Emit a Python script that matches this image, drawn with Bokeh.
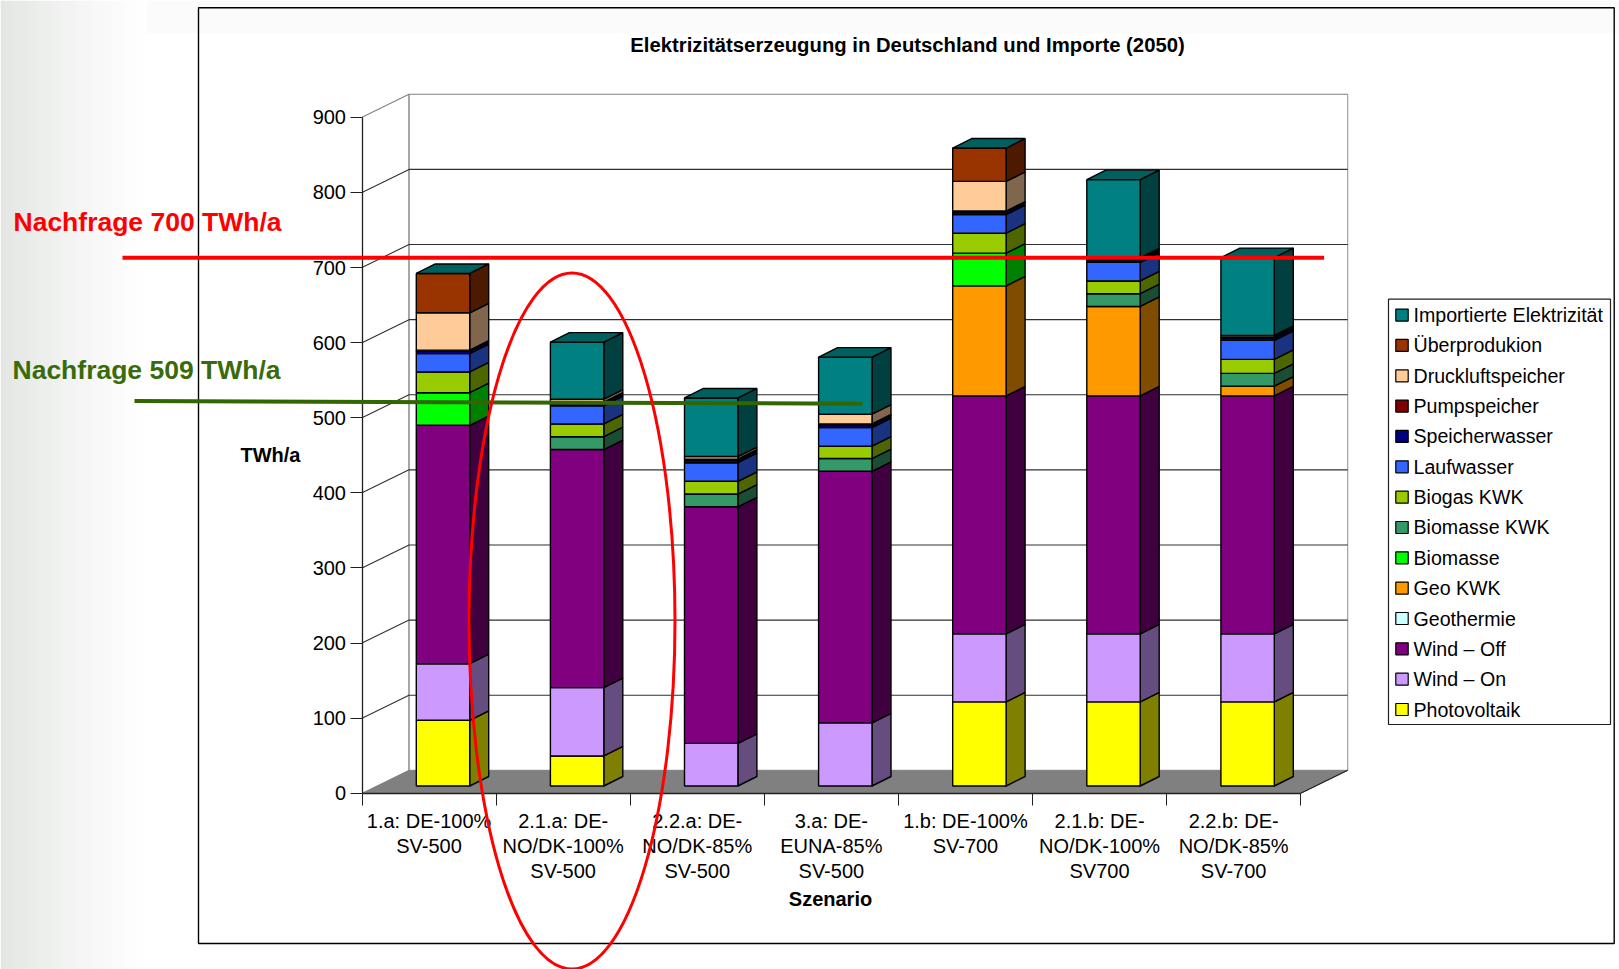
from bokeh.plotting import figure
from bokeh.models import Range1d, LinearAxis, FixedTicker
from bokeh.embed import file_html
from bokeh.resources import INLINE
from bokeh.core.properties import value

scenarios = ["1.a: DE-100%\nSV-500", "2.1.a: DE-\nNO/DK-100%\nSV-500", "2.2.a: DE-\nNO/DK-85%\nSV-500",
             "3.a: DE-\nEUNA-85%\nSV-500", "1.b: DE-100%\nSV-700", "2.1.b: DE-\nNO/DK-100%\nSV700",
             "2.2.b: DE-\nNO/DK-85%\nSV-700"]
y_ticks = [0, 100, 200, 300, 400, 500, 600, 700, 800, 900]

photovoltaik = [87.5, 40, 0, 0, 112, 112, 112]
wind_on = [75.3, 91, 56.7, 84, 90.6, 90.6, 90.6]
wind_off = [317.4, 317, 315, 335, 316.8, 316.8, 316.8]
geothermie = [0, 0, 0, 0, 0, 0, 0]
geo_kwk = [0, 0, 0, 0, 146.5, 119, 13]
biomasse = [43.4, 0, 0, 0, 43.5, 0, 0]
biomasse_kwk = [0, 17, 17, 17, 0, 17, 17]
biogas_kwk = [27.6, 17, 17, 16.4, 26.6, 17, 18.6]
laufwasser = [24.4, 24.3, 24.7, 24.9, 24.8, 24.7, 25.3]
speicherwasser = [3.5, 3.5, 3.5, 3.5, 3.5, 3.5, 3.5]
pumpspeicher = [1.2, 1.2, 1.2, 1.2, 1.2, 1.2, 1.2]
druckluft = [49.7, 4, 3.5, 13, 39.5, 1.5, 2]
ueberproduktion = [52.4, 0, 0, 0, 44.4, 0, 0]
import_el = [0, 76, 78, 76, 0, 104, 103.5]

series = [
    ("Photovoltaik", photovoltaik, "#FFFF00", "#808000"),
    ("Wind – On", wind_on, "#CC99FF", "#664D80"),
    ("Wind – Off", wind_off, "#800080", "#400040"),
    ("Geothermie", geothermie, "#CCFFFF", "#668080"),
    ("Geo KWK", geo_kwk, "#FF9900", "#804D00"),
    ("Biomasse", biomasse, "#00FF00", "#008000"),
    ("Biomasse KWK", biomasse_kwk, "#339966", "#1A4D33"),
    ("Biogas KWK", biogas_kwk, "#99CC00", "#4D6600"),
    ("Laufwasser", laufwasser, "#3366FF", "#1A3380"),
    ("Speicherwasser", speicherwasser, "#000080", "#000040"),
    ("Pumpspeicher", pumpspeicher, "#800000", "#400000"),
    ("Druckluftspeicher", druckluft, "#FFCC99", "#80664D"),
    ("Überprodukion", ueberproduktion, "#993300", "#4D1A00"),
    ("Importierte Elektrizität", import_el, "#008080", "#004040"),
]
demand_high = 703.4
demand_low_left, demand_low_right = 512.5, 509

W, H = 1619, 969
PX_CAT, PX_VAL, X0, Y0 = 134.1, 0.7511, 361.5, 792.8
FONT = "Liberation Sans"


def fx(px):
    return (px - X0) / PX_CAT


def fy(py):
    return (Y0 - py) / PX_VAL


p = figure(width=W, height=H, output_backend="svg", toolbar_location=None,
           x_range=Range1d(fx(0), fx(W)), y_range=Range1d(fy(H), fy(0)),
           x_axis_location=None, y_axis_location=None, min_border=0,
           outline_line_color=None)
p.grid.visible = False

# page background: faint gradient at the left and strip on top
n = 36
for i in range(n):
    t = i / (n - 1)
    c = [int(round(a + (255 - a) * min(1, t ** 0.8))) for a in (0xE2, 0xE5, 0xE2)]
    p.quad(left=fx(i * 146 / n), right=fx((i + 1) * 146 / n + 0.5), bottom=fy(H), top=fy(0),
           fill_color="#%02X%02X%02X" % tuple(c), line_color=None)
p.quad(left=fx(146), right=fx(W), bottom=fy(33), top=fy(0), fill_color="#FBFBFB", line_color=None)

# chart frame
p.quad(left=fx(198), right=fx(1613.7), bottom=fy(943), top=fy(7.3), fill_color=None,
       line_color="#000000", line_width=1.4)

# 3D walls, offsets expressed in scale units
WALL_DX, WALL_DY = 47 / PX_CAT, 23 / PX_VAL
n_cat = len(scenarios)
p.patch([0, n_cat, n_cat + WALL_DX, WALL_DX], [0, 0, WALL_DY, WALL_DY], fill_color="#808080", line_color="#808080")
p.line([WALL_DX, WALL_DX], [WALL_DY, y_ticks[-1] + WALL_DY], line_color="#808080", line_width=1.4)
p.line([n_cat + WALL_DX, n_cat + WALL_DX], [WALL_DY, y_ticks[-1] + WALL_DY], line_color="#A0A0A0", line_width=1.2)
for v in y_ticks[1:]:
    col = "#808080" if v == y_ticks[-1] else "#303030"
    p.line([0, WALL_DX, n_cat + WALL_DX], [v, v + WALL_DY, v + WALL_DY], line_color=col, line_width=1.1)
p.line([n_cat, n_cat + WALL_DX], [0, WALL_DY], line_color="#202020", line_width=1.1)

# bars
BAR_L, BAR_W = 54.3 / PX_CAT, 53.4 / PX_CAT
BASE = 7.3 / PX_VAL
SIDE_X, SIDE_Y = 19 / PX_CAT, 9.5 / PX_VAL
cum = [BASE] * n_cat
for name, vals, front, side in series:
    fxs, fys, sxs, sys_ = [], [], [], []
    for i, v in enumerate(vals):
        if v <= 0:
            continue
        l, r = i + BAR_L, i + BAR_L + BAR_W
        b, t = cum[i], cum[i] + v
        fxs.append([l, r, r, l])
        fys.append([b, b, t, t])
        sxs.append([r, r + SIDE_X, r + SIDE_X, r])
        sys_.append([b, b + SIDE_Y, t + SIDE_Y, t])
        cum[i] = t
    if fxs:
        p.patches(sxs, sys_, fill_color=side, line_color="#000000", line_width=1.4)
        p.patches(fxs, fys, fill_color=front, line_color="#000000", line_width=1.4)
txs, tys = [], []
for i in range(n_cat):
    l, r = i + BAR_L, i + BAR_L + BAR_W
    t = cum[i]
    txs.append([l, r, r + SIDE_X, l + SIDE_X])
    tys.append([t, t, t + SIDE_Y, t + SIDE_Y])
p.patches(txs, tys, fill_color="#006060", line_color="#000000", line_width=1.4)

# axes
yax = LinearAxis(fixed_location=0, ticker=FixedTicker(ticks=y_ticks), bounds=(0, y_ticks[-1]),
                 major_tick_in=0, major_tick_out=12, minor_tick_out=0, minor_tick_in=0,
                 major_label_standoff=4, major_label_text_font=FONT, major_label_text_font_size="20px",
                 major_label_text_color="#000000", axis_line_color="#202020", major_tick_line_color="#202020",
                 axis_line_width=1.3)
p.add_layout(yax, "left")
xax = LinearAxis(fixed_location=0, ticker=FixedTicker(ticks=list(range(n_cat + 1))), bounds=(0, n_cat),
                 major_tick_in=0, major_tick_out=12, minor_tick_out=0, minor_tick_in=0,
                 major_label_text_font_size="0px", axis_line_color="#202020", major_tick_line_color="#202020",
                 axis_line_width=1.3, major_label_overrides={i: "" for i in range(n_cat + 1)})
p.add_layout(xax, "below")
centers = [i + 0.5 for i in range(n_cat)]
lab = LinearAxis(fixed_location=0, ticker=FixedTicker(ticks=centers), major_tick_in=0, major_tick_out=0,
                 minor_tick_out=0, minor_tick_in=0, axis_line_color=None, major_label_standoff=17,
                 major_label_text_font=FONT, major_label_text_font_size="20px", major_label_text_color="#000000",
                 major_label_text_line_height=1.13, major_label_overrides=dict(zip(centers, scenarios)))
p.add_layout(lab, "below")


def label(px, py, text, size, color="#000000", bold=True, align="left"):
    p.text([fx(px)], [fy(py)], text=[text], text_font=value(FONT), text_font_size=size, text_color=color,
           text_font_style="bold" if bold else "normal", text_align=align, text_baseline="middle", level="overlay")


label(907, 44, "Elektrizitätserzeugung in Deutschland und Importe (2050)", "20.3px", align="center")
label(270, 454, "TWh/a", "20px", align="center")
label(830, 898, "Szenario", "20px", align="center")

# legend: box, swatches and labels, newest series on top
p.quad(left=fx(1388), right=fx(1610), bottom=fy(724), top=fy(298.7), fill_color="#FFFFFF", line_color="#202020", line_width=1.2)
for row, (name, _vals, front, _side) in enumerate(series[::-1]):
    cy = 314.6 + row * 30.34
    p.quad(left=fx(1395.3), right=fx(1407.7), bottom=fy(cy + 6), top=fy(cy - 6), fill_color=front,
           line_color="#000000", line_width=1.2)
    label(1413, cy, name, "19.6px", bold=False)

# overlays
p.line([fx(122), fx(1323.6)], [demand_high + BASE, demand_high + BASE], line_color="#FF0000", line_width=4, level="overlay")
p.line([fx(134), fx(862)], [demand_low_left + BASE, demand_low_right + BASE], line_color="#336600", line_width=4, level="overlay")
p.ellipse([fx(571.5)], [fy(620.5)], width=[206 / PX_CAT], height=[696 / PX_VAL], fill_color=None,
          line_color="#FF0000", line_width=3, level="overlay")
label(13, 221, "Nachfrage 700 TWh/a", "26.5px", color="#FF0000")
label(12, 369.5, "Nachfrage 509 TWh/a", "26.5px", color="#3A6B0A")

open("out.html", "w").write(file_html(p, INLINE))
